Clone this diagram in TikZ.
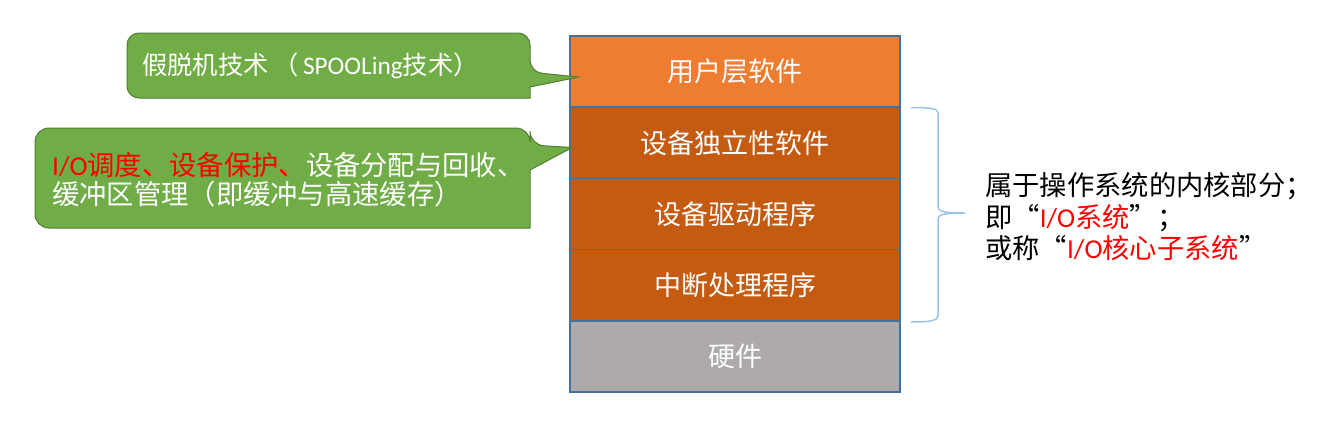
\documentclass[tikz,border=0pt]{standalone}
\usepackage{fontspec}
\setmainfont{Noto Sans CJK SC}
\newfontfamily\latf{Carlito}
\usetikzlibrary{calc}
\definecolor{orangeA}{HTML}{ED7D31}
\definecolor{orangeB}{HTML}{C55A11}
\definecolor{grayhw}{HTML}{AEAAAA}
\definecolor{stackline}{HTML}{41719C}
\definecolor{greenfill}{HTML}{70AD47}
\definecolor{greenline}{HTML}{507E32}
\definecolor{bracec}{HTML}{9DC3E6}
\newcommand\lat[1]{{\latf #1}}
\newcommand\lqm{\makebox[1em][r]{“}}
\newcommand\rqm{\makebox[1em][l]{”}}
\begin{document}
\begin{tikzpicture}[x=1pt,y=-1pt,
  layer/.style={draw=stackline, line width=1.5pt, minimum width=330pt, minimum height=71.2pt,
    inner sep=0pt, text=white, font=\fontsize{27}{29}\selectfont},
  callout/.style={fill=greenfill, draw=greenline, line width=1pt},
  ctext/.style={text=white, anchor=west, inner sep=0pt, align=left, font=\fontsize{27.3}{29}\selectfont},
  rtext/.style={text=black, anchor=west, inner sep=0pt, align=left, font=\fontsize{27.3}{31.5}\selectfont},
  bracestyle/.style={draw=bracec, line width=1.5pt}]
\useasboundingbox (0,0) rectangle (1342,434);
% stack
\node[layer, fill=orangeA] (r1) at (735,71.6) {用户层软件};
\node[layer, fill=orangeB] (r2) at (735,142.8) {设备独立性软件};
\node[layer, fill=orangeB] (r3) at (735,214.0) {设备驱动程序};
\node[layer, fill=orangeB] (r4) at (735,285.2) {中断处理程序};
\node[layer, fill=grayhw] (r5) at (735,356.4) {硬件};
% callout 1
\coordinate (t1) at ($(r1.west)+(9,5.5)$);
\draw[callout] (127,65) [rounded corners=12] -- (127,33) -- (530,33) -- (530,72)
  [sharp corners] -- (t1) -- (530,87) -- (530,98) [rounded corners=12] -- (127,98) -- cycle;
\node[ctext, font=\fontsize{25.3}{28}\selectfont] (c1) at (142,66) {假脱机技术\hspace{5pt}（\hspace{4pt}\lat{SPOOLing}技术）};
% callout 2
\coordinate (t2) at ($(r2.north west)+(3,41)$);
\draw[callout] (35,178) [rounded corners=14] -- (35,128) -- (530,128) -- (530,145)
  [sharp corners] -- (t2) -- (530,170) -- (530,228) [rounded corners=14] -- (35,228) -- cycle;
\node[ctext] (c2) at (52,180) {{\color{red}\lat{I/O}调度、设备保护、}设备分配与回收、\\缓冲区管理（即缓冲与高速缓存）};
% brace
\coordinate (bt) at (911,107.5);
\coordinate (bm) at (965,213);
\coordinate (bb) at (911,322);
\draw[bracestyle] (bt) .. controls (930,107.5) and (938,108.5) .. (938,113) -- (938,207)
  .. controls (938,211.5) and (944,213) .. (bm)
  .. controls (944,213) and (938,214.5) .. (938,219) -- (938,316)
  .. controls (938,320.5) and (930,322) .. (bb);
% right text
\node[rtext] (note) at (985,217) {属于操作系统的内核部分；\\即\lqm{\color{red}\lat{I/O}系统}\rqm；\\或称\lqm{\color{red}\lat{I/O}核心子系统}\rqm};
\end{tikzpicture}
\end{document}
